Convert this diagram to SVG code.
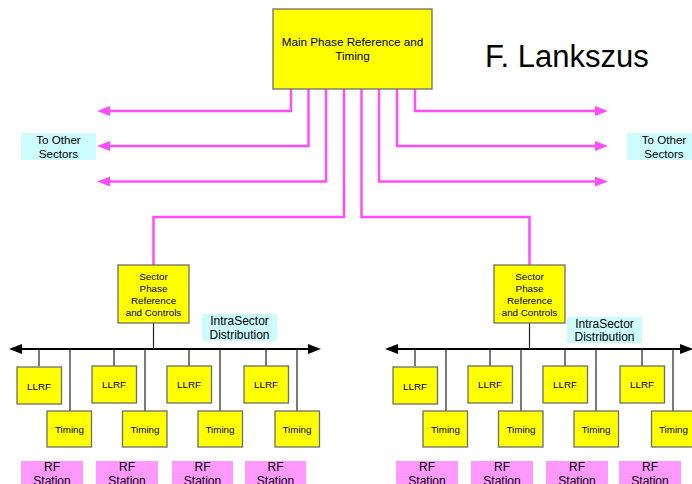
<svg xmlns="http://www.w3.org/2000/svg" width="692" height="484" viewBox="0 0 692 484">
  <style>
    text { font-family: "Liberation Sans", Arial, sans-serif; fill: #000; text-anchor: middle; }
    .box { fill: #ffff00; stroke: #6e6e6e; stroke-width: 1.3; }
    .note { fill: #ccfcff; stroke: none; }
    .rf { fill: #ff99ff; stroke: none; }
    .mag { fill: none; stroke: #ff4dff; stroke-width: 2.5; }
    .bus { fill: none; stroke: #000; stroke-width: 2.2; }
    .drop { fill: none; stroke: #222; stroke-width: 1.2; }
    .f12 { font-size: 12px; }
    .f11 { font-size: 11.6px; }
    .f10 { font-size: 9.8px; }
  </style>
  <defs>
    <marker id="magArrow" markerUnits="userSpaceOnUse" markerWidth="14" markerHeight="11" refX="7" refY="5" orient="auto">
      <path d="M0,0 L13,5 L0,10 z" fill="#ff4dff"/>
    </marker>
    <marker id="busArrow" markerUnits="userSpaceOnUse" markerWidth="14" markerHeight="11" refX="7" refY="5" orient="auto-start-reverse">
      <path d="M0,0 L13,5 L0,10 z" fill="#000"/>
    </marker>
  </defs>

  <rect width="692" height="484" fill="#fff"/>

  <!-- connectors -->
  <g id="connectors">
    <!-- links to other sectors -->
    <path class="mag" d="M291,89 V111 H103" marker-end="url(#magArrow)"/>
    <path class="mag" d="M308.5,89 V146 H103" marker-end="url(#magArrow)"/>
    <path class="mag" d="M326,89 V181.5 H103" marker-end="url(#magArrow)"/>
    <path class="mag" d="M415,89 V111 H602" marker-end="url(#magArrow)"/>
    <path class="mag" d="M397,89 V146 H602" marker-end="url(#magArrow)"/>
    <path class="mag" d="M379,89 V181.5 H602" marker-end="url(#magArrow)"/>
    <!-- links to the two sector controllers -->
    <path class="mag" d="M344,89 V217 H153.5 V265"/>
    <path class="mag" d="M361.5,89 V217 H529.5 V265"/>

    <!-- left intrasector bus -->
    <path class="bus" d="M15,349 H315" marker-start="url(#busArrow)" marker-end="url(#busArrow)"/>
    <path class="drop" d="M153.5,323 V349"/>
    <path class="drop" d="M39,349 V366.5 M114,349 V366.5 M189,349 V366.5 M266,349 V366.5"/>
    <path class="drop" d="M70,349 V411 M145,349 V411 M220,349 V411 M297,349 V411"/>

    <!-- right intrasector bus -->
    <path class="bus" d="M391,349 H687" marker-start="url(#busArrow)" marker-end="url(#busArrow)"/>
    <path class="drop" d="M529.5,323 V349"/>
    <path class="drop" d="M415,349 V366.5 M490,349 V366.5 M565,349 V366.5 M642,349 V366.5"/>
    <path class="drop" d="M446,349 V411 M521,349 V411 M596,349 V411 M673,349 V411"/>
  </g>

  <!-- main reference -->
  <g id="main">
    <rect class="box" x="273" y="9" width="159" height="80"/>
    <text x="352.5" y="46.3" style="font-size:11.7px">Main Phase Reference and</text>
    <text x="352.5" y="60.3" style="font-size:11.7px">Timing</text>
  </g>

  <text id="author" x="485" y="67" style="font-size:31px;text-anchor:start">F. Lankszus</text>

  <g id="other-left">
    <rect class="note" x="21" y="133" width="75" height="27"/>
    <text class="f11" x="58.5" y="144.2">To Other</text>
    <text class="f11" x="58.5" y="157.5">Sectors</text>
  </g>
  <g id="other-right">
    <rect class="note" x="627" y="133" width="70" height="27"/>
    <text class="f11" x="664" y="144.2">To Other</text>
    <text class="f11" x="664" y="157.5">Sectors</text>
  </g>

  <!-- left sector -->
  <g id="sector-left">
    <rect class="box" x="118" y="265" width="71" height="58"/>
    <text class="f10" x="153.5" y="280.2">Sector</text>
    <text class="f10" x="153.5" y="292.2">Phase</text>
    <text class="f10" x="153.5" y="303.8">Reference</text>
    <text class="f10" x="153.5" y="315.5">and Controls</text>
  </g>
  <g id="intra-left">
    <rect class="note" x="202" y="314" width="75" height="27"/>
    <text class="f12" x="239.5" y="325">IntraSector</text>
    <text class="f12" x="239.5" y="338.6">Distribution</text>
  </g>
  <g id="llrf-l1"><rect class="box" x="17" y="367" width="44.5" height="37"/><text class="f10" x="39" y="390.2">LLRF</text></g>
  <g id="llrf-l2"><rect class="box" x="92" y="366" width="44.5" height="37"/><text class="f10" x="114" y="388">LLRF</text></g>
  <g id="llrf-l3"><rect class="box" x="167" y="366" width="44.5" height="37"/><text class="f10" x="189" y="388">LLRF</text></g>
  <g id="llrf-l4"><rect class="box" x="244" y="366" width="44.5" height="37"/><text class="f10" x="266" y="388">LLRF</text></g>
  <g id="timing-l1"><rect class="box" x="47" y="411" width="44.5" height="36"/><text class="f10" x="69.5" y="432.5">Timing</text></g>
  <g id="timing-l2"><rect class="box" x="122.5" y="411" width="44.5" height="36"/><text class="f10" x="145" y="432.5">Timing</text></g>
  <g id="timing-l3"><rect class="box" x="198" y="411" width="44.5" height="36"/><text class="f10" x="220" y="432.5">Timing</text></g>
  <g id="timing-l4"><rect class="box" x="275" y="411" width="44.5" height="36"/><text class="f10" x="297" y="432.5">Timing</text></g>
  <g id="rf-l1"><rect class="rf" x="21" y="461" width="62" height="30"/><text class="f12" x="52" y="471">RF</text><text class="f12" x="52" y="485">Station</text></g>
  <g id="rf-l2"><rect class="rf" x="96" y="461" width="62" height="30"/><text class="f12" x="127" y="471">RF</text><text class="f12" x="127" y="485">Station</text></g>
  <g id="rf-l3"><rect class="rf" x="172" y="461" width="61" height="30"/><text class="f12" x="202.5" y="471">RF</text><text class="f12" x="202.5" y="485">Station</text></g>
  <g id="rf-l4"><rect class="rf" x="245" y="461" width="61" height="30"/><text class="f12" x="275.5" y="471">RF</text><text class="f12" x="275.5" y="485">Station</text></g>

  <!-- right sector -->
  <g id="sector-right">
    <rect class="box" x="494" y="265" width="71" height="58"/>
    <text class="f10" x="529.5" y="280.2">Sector</text>
    <text class="f10" x="529.5" y="292.2">Phase</text>
    <text class="f10" x="529.5" y="303.8">Reference</text>
    <text class="f10" x="529.5" y="315.5">and Controls</text>
  </g>
  <g id="intra-right">
    <rect class="note" x="567" y="317" width="75" height="26"/>
    <text class="f12" x="604.5" y="327.5">IntraSector</text>
    <text class="f12" x="604.5" y="341">Distribution</text>
  </g>
  <g id="llrf-r1"><rect class="box" x="393" y="367" width="44.5" height="37"/><text class="f10" x="415" y="390.2">LLRF</text></g>
  <g id="llrf-r2"><rect class="box" x="468" y="366" width="44.5" height="37"/><text class="f10" x="490" y="388">LLRF</text></g>
  <g id="llrf-r3"><rect class="box" x="543" y="366" width="44.5" height="37"/><text class="f10" x="565" y="388">LLRF</text></g>
  <g id="llrf-r4"><rect class="box" x="620" y="366" width="44.5" height="37"/><text class="f10" x="642" y="388">LLRF</text></g>
  <g id="timing-r1"><rect class="box" x="423" y="411" width="44.5" height="36"/><text class="f10" x="445.5" y="432.5">Timing</text></g>
  <g id="timing-r2"><rect class="box" x="498.5" y="411" width="44.5" height="36"/><text class="f10" x="521" y="432.5">Timing</text></g>
  <g id="timing-r3"><rect class="box" x="574" y="411" width="44.5" height="36"/><text class="f10" x="596" y="432.5">Timing</text></g>
  <g id="timing-r4"><rect class="box" x="651.5" y="411" width="44.5" height="36"/><text class="f10" x="673.5" y="432.5">Timing</text></g>
  <g id="rf-r1"><rect class="rf" x="396" y="461" width="62" height="30"/><text class="f12" x="427" y="471">RF</text><text class="f12" x="427" y="485">Station</text></g>
  <g id="rf-r2"><rect class="rf" x="471" y="461" width="62" height="30"/><text class="f12" x="502" y="471">RF</text><text class="f12" x="502" y="485">Station</text></g>
  <g id="rf-r3"><rect class="rf" x="546" y="461" width="62" height="30"/><text class="f12" x="577" y="471">RF</text><text class="f12" x="577" y="485">Station</text></g>
  <g id="rf-r4"><rect class="rf" x="619" y="461" width="62" height="30"/><text class="f12" x="650" y="471">RF</text><text class="f12" x="650" y="485">Station</text></g>
</svg>
